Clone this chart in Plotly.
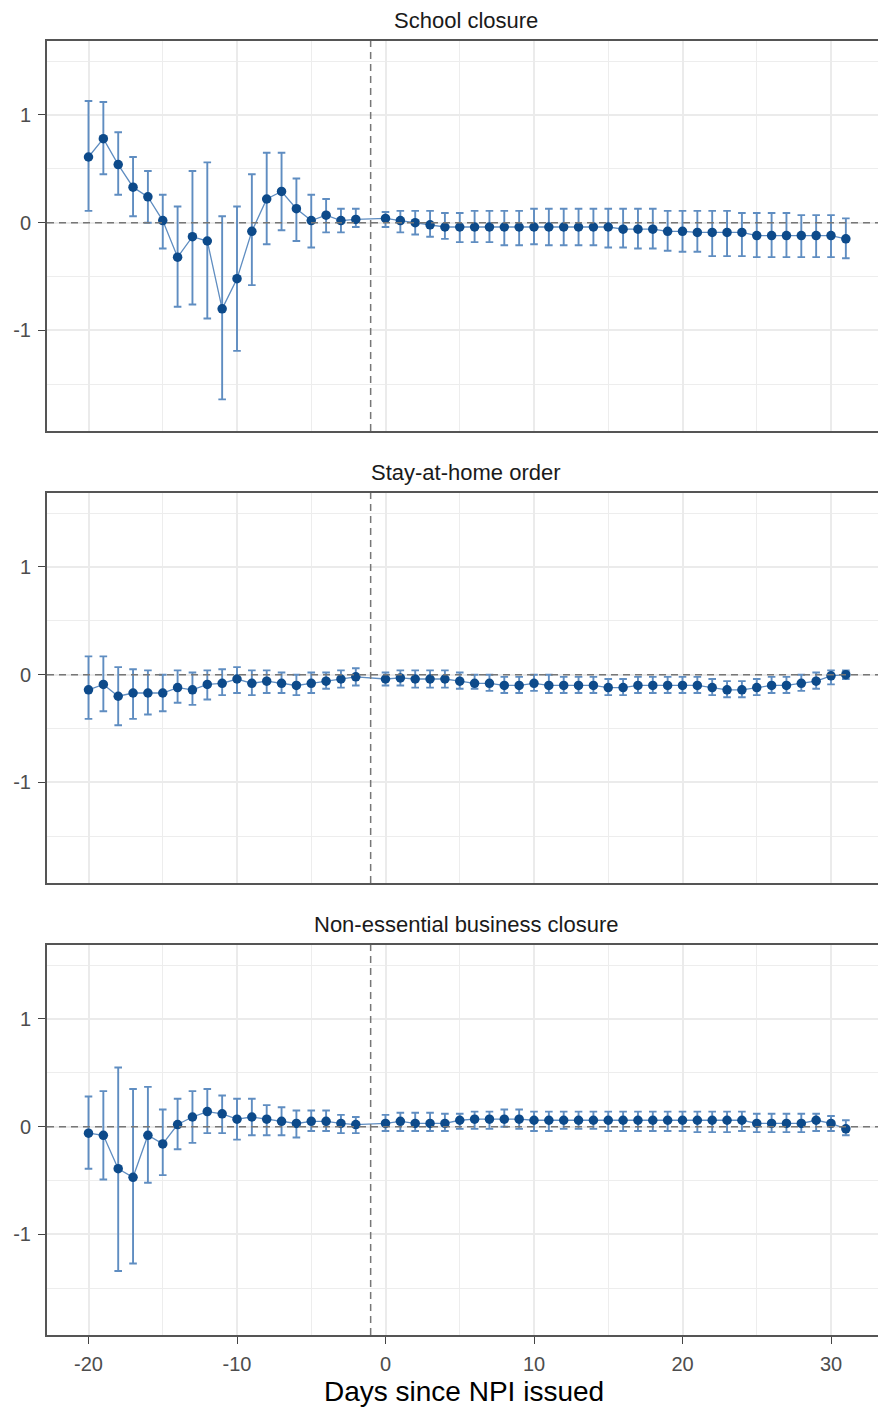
import plotly.graph_objects as go
from plotly.subplots import make_subplots

days = [-20, -19, -18, -17, -16, -15, -14, -13, -12, -11, -10, -9, -8, -7, -6, -5, -4, -3, -2,
        0, 1, 2, 3, 4, 5, 6, 7, 8, 9, 10, 11, 12, 13, 14, 15, 16, 17, 18, 19, 20,
        21, 22, 23, 24, 25, 26, 27, 28, 29, 30, 31]

panel_titles = ["School closure", "Stay-at-home order", "Non-essential business closure"]
x_tick_vals = [-20, -10, 0, 10, 20, 30]
x_tick_text = ["-20", "-10", "0", "10", "20", "30"]
y_tick_vals = [-1, 0, 1]
y_tick_text = ["-1", "0", "1"]

school_est = [0.61, 0.78, 0.54, 0.33, 0.24, 0.02, -0.32, -0.13, -0.17, -0.80, -0.52, -0.08, 0.22, 0.29, 0.13, 0.02, 0.07, 0.02, 0.03,
              0.04, 0.02, 0.00, -0.02, -0.04, -0.04, -0.04, -0.04, -0.04, -0.04, -0.04, -0.04, -0.04, -0.04, -0.04, -0.04, -0.06, -0.06, -0.06, -0.08, -0.08,
              -0.09, -0.09, -0.09, -0.09, -0.12, -0.12, -0.12, -0.12, -0.12, -0.12, -0.15]
school_lo = [0.11, 0.45, 0.26, 0.06, 0.00, -0.24, -0.78, -0.76, -0.89, -1.64, -1.19, -0.58, -0.20, -0.07, -0.17, -0.23, -0.09, -0.09, -0.04,
             -0.04, -0.09, -0.11, -0.13, -0.15, -0.18, -0.18, -0.18, -0.21, -0.21, -0.20, -0.21, -0.21, -0.21, -0.21, -0.23, -0.23, -0.24, -0.24, -0.26, -0.27,
             -0.27, -0.31, -0.31, -0.31, -0.32, -0.32, -0.32, -0.32, -0.32, -0.32, -0.33]
school_hi = [1.13, 1.12, 0.84, 0.61, 0.48, 0.26, 0.15, 0.48, 0.56, 0.06, 0.15, 0.45, 0.65, 0.65, 0.41, 0.26, 0.22, 0.13, 0.13,
             0.10, 0.11, 0.11, 0.11, 0.09, 0.09, 0.11, 0.11, 0.11, 0.11, 0.13, 0.13, 0.13, 0.13, 0.13, 0.13, 0.13, 0.13, 0.13, 0.11, 0.11,
             0.11, 0.11, 0.11, 0.09, 0.09, 0.09, 0.09, 0.07, 0.07, 0.07, 0.04]

stay_est = [-0.14, -0.09, -0.20, -0.17, -0.17, -0.17, -0.12, -0.14, -0.09, -0.08, -0.04, -0.08, -0.06, -0.08, -0.10, -0.08, -0.06, -0.04, -0.02,
            -0.04, -0.03, -0.04, -0.04, -0.04, -0.06, -0.08, -0.08, -0.10, -0.10, -0.08, -0.10, -0.10, -0.10, -0.10, -0.12, -0.12, -0.10, -0.10, -0.10, -0.10,
            -0.10, -0.12, -0.14, -0.14, -0.12, -0.10, -0.10, -0.08, -0.06, -0.01, 0.00]
stay_lo = [-0.41, -0.34, -0.47, -0.41, -0.37, -0.34, -0.26, -0.28, -0.23, -0.19, -0.17, -0.19, -0.17, -0.17, -0.19, -0.17, -0.13, -0.12, -0.10,
           -0.10, -0.10, -0.12, -0.12, -0.12, -0.13, -0.13, -0.15, -0.17, -0.17, -0.15, -0.17, -0.17, -0.17, -0.17, -0.19, -0.19, -0.17, -0.17, -0.17, -0.17,
           -0.17, -0.19, -0.21, -0.21, -0.19, -0.17, -0.17, -0.15, -0.13, -0.09, -0.04]
stay_hi = [0.17, 0.17, 0.07, 0.05, 0.04, 0.00, 0.04, 0.02, 0.04, 0.05, 0.07, 0.04, 0.04, 0.02, 0.00, 0.02, 0.02, 0.04, 0.06,
           0.02, 0.04, 0.04, 0.04, 0.04, 0.02, 0.00, 0.00, -0.02, -0.02, 0.00, 0.00, -0.02, -0.02, -0.02, -0.04, -0.04, -0.02, -0.02, -0.02, -0.02,
           -0.02, -0.04, -0.06, -0.06, -0.04, -0.02, -0.02, 0.00, 0.02, 0.04, 0.04]

biz_est = [-0.06, -0.08, -0.39, -0.47, -0.08, -0.16, 0.02, 0.09, 0.14, 0.12, 0.07, 0.09, 0.07, 0.05, 0.03, 0.05, 0.05, 0.03, 0.02,
           0.03, 0.05, 0.03, 0.03, 0.03, 0.06, 0.07, 0.07, 0.07, 0.07, 0.06, 0.06, 0.06, 0.06, 0.06, 0.06, 0.06, 0.06, 0.06, 0.06, 0.06,
           0.06, 0.06, 0.06, 0.06, 0.03, 0.03, 0.03, 0.03, 0.06, 0.03, -0.02]
biz_lo = [-0.39, -0.49, -1.34, -1.27, -0.52, -0.45, -0.21, -0.15, -0.06, -0.06, -0.12, -0.08, -0.08, -0.08, -0.10, -0.04, -0.04, -0.06, -0.06,
          -0.04, -0.04, -0.04, -0.04, -0.04, -0.02, -0.02, -0.02, 0.00, -0.02, -0.04, -0.04, -0.02, -0.02, -0.02, -0.04, -0.04, -0.04, -0.04, -0.04, -0.04,
          -0.05, -0.05, -0.05, -0.04, -0.05, -0.05, -0.05, -0.05, -0.04, -0.04, -0.08]
biz_hi = [0.28, 0.33, 0.55, 0.35, 0.37, 0.16, 0.26, 0.33, 0.35, 0.29, 0.26, 0.26, 0.20, 0.18, 0.15, 0.15, 0.15, 0.11, 0.09,
          0.11, 0.13, 0.13, 0.13, 0.12, 0.12, 0.14, 0.14, 0.16, 0.16, 0.14, 0.14, 0.14, 0.14, 0.14, 0.14, 0.14, 0.14, 0.14, 0.14, 0.14,
          0.14, 0.14, 0.14, 0.14, 0.12, 0.12, 0.12, 0.12, 0.12, 0.10, 0.06]

series = [(school_est, school_lo, school_hi), (stay_est, stay_lo, stay_hi), (biz_est, biz_lo, biz_hi)]

W, H = 878, 1410
ML, MR, MT, MB = 47, 0, 41, 75
panel_h = 390
gap = 62
plot_h = H - MT - MB

POINT = "#0d4a8a"
BAR = "#5f8dc1"
FONT = "Liberation Sans, Arial, sans-serif"

fig = make_subplots(rows=3, cols=1, shared_xaxes=False)

for i, (est, lo, hi) in enumerate(series):
    up = [h - e for h, e in zip(hi, est)]
    dn = [e - l for e, l in zip(est, lo)]
    fig.add_trace(go.Scatter(
        x=days, y=est, mode="lines+markers",
        line=dict(color=BAR, width=1.3),
        marker=dict(color=POINT, size=9.5),
        error_y=dict(type="data", symmetric=False, array=up, arrayminus=dn,
                     color=BAR, thickness=1.9, width=3.8),
        showlegend=False, hoverinfo="skip"), row=i + 1, col=1)

x_range = [(ML - 385.5) / 14.85, (W - 385.5) / 14.85]
y_range = [-1.934, 1.687]

annotations = []
shapes = []
for i in range(3):
    top_px = MT + i * (panel_h + gap)
    bot_px = top_px + panel_h
    d0 = (H - MB - bot_px) / plot_h
    d1 = (H - MB - top_px) / plot_h
    ax = "" if i == 0 else str(i + 1)
    fig.layout["yaxis" + ax].update(
        domain=[d0, d1], range=y_range, tickvals=y_tick_vals, ticktext=y_tick_text,
        showgrid=True, gridcolor="#ebebeb", gridwidth=1.5, zeroline=False,
        minor=dict(tickvals=[-1.5, -0.5, 0.5, 1.5], showgrid=True, gridcolor="#ededed", gridwidth=1.3, ticks=""),
        showline=True, linecolor="#555555", linewidth=2, mirror=False,
        ticks="outside", ticklen=7, tickcolor="#444444", tickwidth=1.4,
        tickfont=dict(family=FONT, size=20, color="#4d4d4d"), ticklabelstandoff=3)
    fig.layout["xaxis" + ax].update(
        range=x_range, tickvals=x_tick_vals, ticktext=x_tick_text,
        showgrid=True, gridcolor="#ebebeb", gridwidth=1.5, zeroline=False,
        minor=dict(tickvals=[-15, -5, 5, 15, 25], showgrid=True, gridcolor="#ededed", gridwidth=1.3, ticks=""),
        showline=True, linecolor="#555555", linewidth=2, mirror=True,
        ticks="outside" if i == 2 else "", ticklen=7, tickcolor="#444444", tickwidth=1.4,
        showticklabels=(i == 2),
        tickfont=dict(family=FONT, size=20, color="#4d4d4d"), ticklabelstandoff=3)
    xr = "x" + ax
    yr = "y" + ax
    shapes.append(dict(type="line", xref=xr + " domain", yref=yr, x0=0, x1=1, y0=0, y1=0,
                       line=dict(color="#777777", width=1.5, dash="7px,5px"), layer="above"))
    shapes.append(dict(type="line", xref=xr, yref=yr + " domain", x0=-1, x1=-1, y0=0, y1=1,
                       line=dict(color="#777777", width=1.5, dash="7px,5px"), layer="above"))
    annotations.append(dict(text=panel_titles[i], xref="paper", yref="paper",
                            x=(466 - ML) / (W - ML - MR), y=d1, yanchor="middle", xanchor="center",
                            yshift=21, showarrow=False,
                            font=dict(family=FONT, size=22, color="#1a1a1a")))

annotations.append(dict(text="Days since NPI issued", xref="paper", yref="paper",
                        x=(464 - ML) / (W - ML - MR), y=(H - MB - 1391) / plot_h,
                        yanchor="middle", xanchor="center", showarrow=False,
                        font=dict(family=FONT, size=28, color="#000000")))

fig.update_layout(
    width=W, height=H, margin=dict(l=ML, r=MR, t=MT, b=MB),
    paper_bgcolor="white", plot_bgcolor="white",
    shapes=shapes, annotations=annotations, showlegend=False)

fig.write_html("out.html")
